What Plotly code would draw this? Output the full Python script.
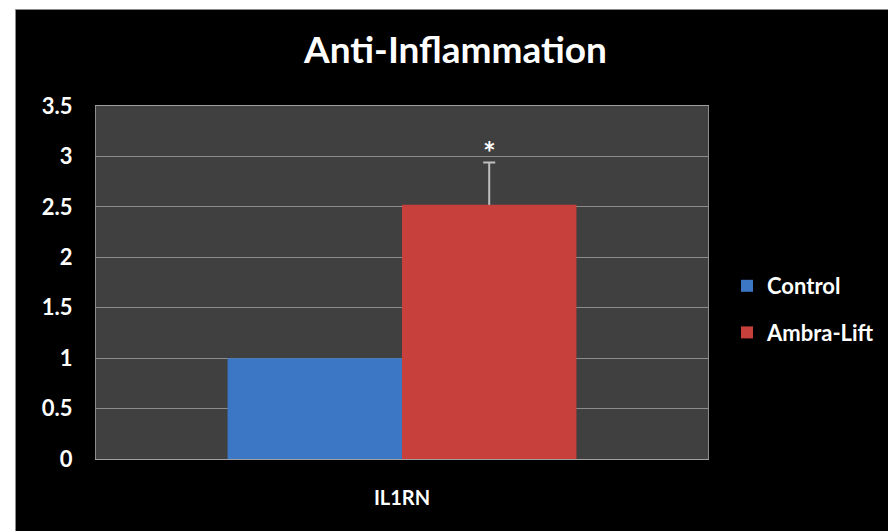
import plotly.graph_objects as go

# ---- data ----
categories = ["IL1RN"]
series_names = ["Control", "Ambra-Lift"]
control_values = [1.0]
ambra_values = [2.52]
ambra_error_plus = [0.42]
significance = ["*"]
y_tick_values = [0, 0.5, 1, 1.5, 2, 2.5, 3, 3.5]
y_tick_labels = ["0", "0.5", "1", "1.5", "2", "2.5", "3", "3.5"]

# ---- layout geometry (figure is drawn inside the page's 8px body margin) ----
OFF = 8
W, H = 896 - OFF, 531 - OFF
ML, MR, MT, MB = 96 - OFF, 188, 106 - OFF, 72
PW, PH = W - ML - MR, H - MT - MB
BARGAP = 0.43
FONT = "Lato"
ERR_COLOR = "#c0c0c0"


def px_to_paper_x(px):
    return (px - ML) / PW


def px_to_paper_y(py):
    return (H - MB - py) / PH


fig = go.Figure()
fig.add_trace(go.Bar(
    name=series_names[0], x=categories, y=control_values,
    marker=dict(color="#3c77c6", line=dict(width=0)),
    offsetgroup="a", legendgroup="a",
))
fig.add_trace(go.Bar(
    name=series_names[1], x=categories, y=ambra_values,
    marker=dict(color="#c8403b", line=dict(width=0)),
    offsetgroup="b", legendgroup="b",
))
# upward-only error bar: a thin stem bar sitting on the Ambra-Lift bar,
# with a zero-length error bar giving the cap at its top
fig.add_trace(go.Bar(
    name="error", x=categories, y=ambra_error_plus, base=ambra_values,
    width=2 / PW, marker=dict(color=ERR_COLOR, line=dict(width=0)),
    error_y=dict(type="data", array=[0], color=ERR_COLOR, thickness=2, width=6),
    offsetgroup="b", legendgroup="b", showlegend=False, hoverinfo="skip",
))

# asterisk above the Ambra-Lift error bar
bar_w = PW * (1 - BARGAP) / 2
fig.add_annotation(
    x=categories[0], y=ambra_values[0] + ambra_error_plus[0],
    xref="x", yref="y", text="<b>" + significance[0] + "</b>", showarrow=False,
    xshift=bar_w / 2, yanchor="bottom", yshift=-10,
    font=dict(family=FONT, size=30, color="white"),
)

# black chart area with white strip at top/left
fig.add_shape(type="rect", xref="paper", yref="paper",
              x0=px_to_paper_x(7.5), x1=px_to_paper_x(W + 5),
              y0=px_to_paper_y(H + 5), y1=px_to_paper_y(1.5),
              fillcolor="black", line=dict(color="#8a8a8a", width=1),
              layer="below")
fig.add_shape(type="rect", xref="paper", yref="paper",
              x0=0, x1=1, y0=0, y1=1,
              fillcolor="#404040", line=dict(width=0), layer="below")

fig.update_layout(
    width=W, height=H,
    margin=dict(l=ML, r=MR, t=MT, b=MB, pad=0),
    paper_bgcolor="white",
    plot_bgcolor="rgba(0,0,0,0)",
    barmode="group", bargap=BARGAP, bargroupgap=0,
    title=dict(text="<b>Anti-Inflammation</b>", x=447.5 / W, xanchor="center",
               y=1 - 42 / H, yanchor="middle",
               font=dict(family=FONT, size=37, color="white")),
    legend=dict(x=px_to_paper_x(719), xanchor="left",
                y=px_to_paper_y(257), yanchor="top",
                font=dict(family=FONT, size=22, color="white", weight="bold"),
                bgcolor="rgba(0,0,0,0)", tracegroupgap=15,
                traceorder="grouped", itemclick=False),
    showlegend=True,
    font=dict(family=FONT, color="white"),
)
fig.update_xaxes(
    showline=True, mirror=True, linecolor="#a0a0a0", linewidth=1,
    showgrid=False, ticks="", ticklabelstandoff=21,
    tickfont=dict(family=FONT, size=20, color="white", weight="bold"),
)
fig.update_yaxes(
    range=[0, 3.5], tickvals=y_tick_values, ticktext=y_tick_labels,
    showline=True, mirror=True, linecolor="#8c8c8c", linewidth=1,
    showgrid=True, gridcolor="#8c8c8c", gridwidth=1, zeroline=False,
    ticks="", ticklabelstandoff=18,
    tickfont=dict(family=FONT, size=22, color="white", weight="bold"),
)

fig.write_html("out.html")
